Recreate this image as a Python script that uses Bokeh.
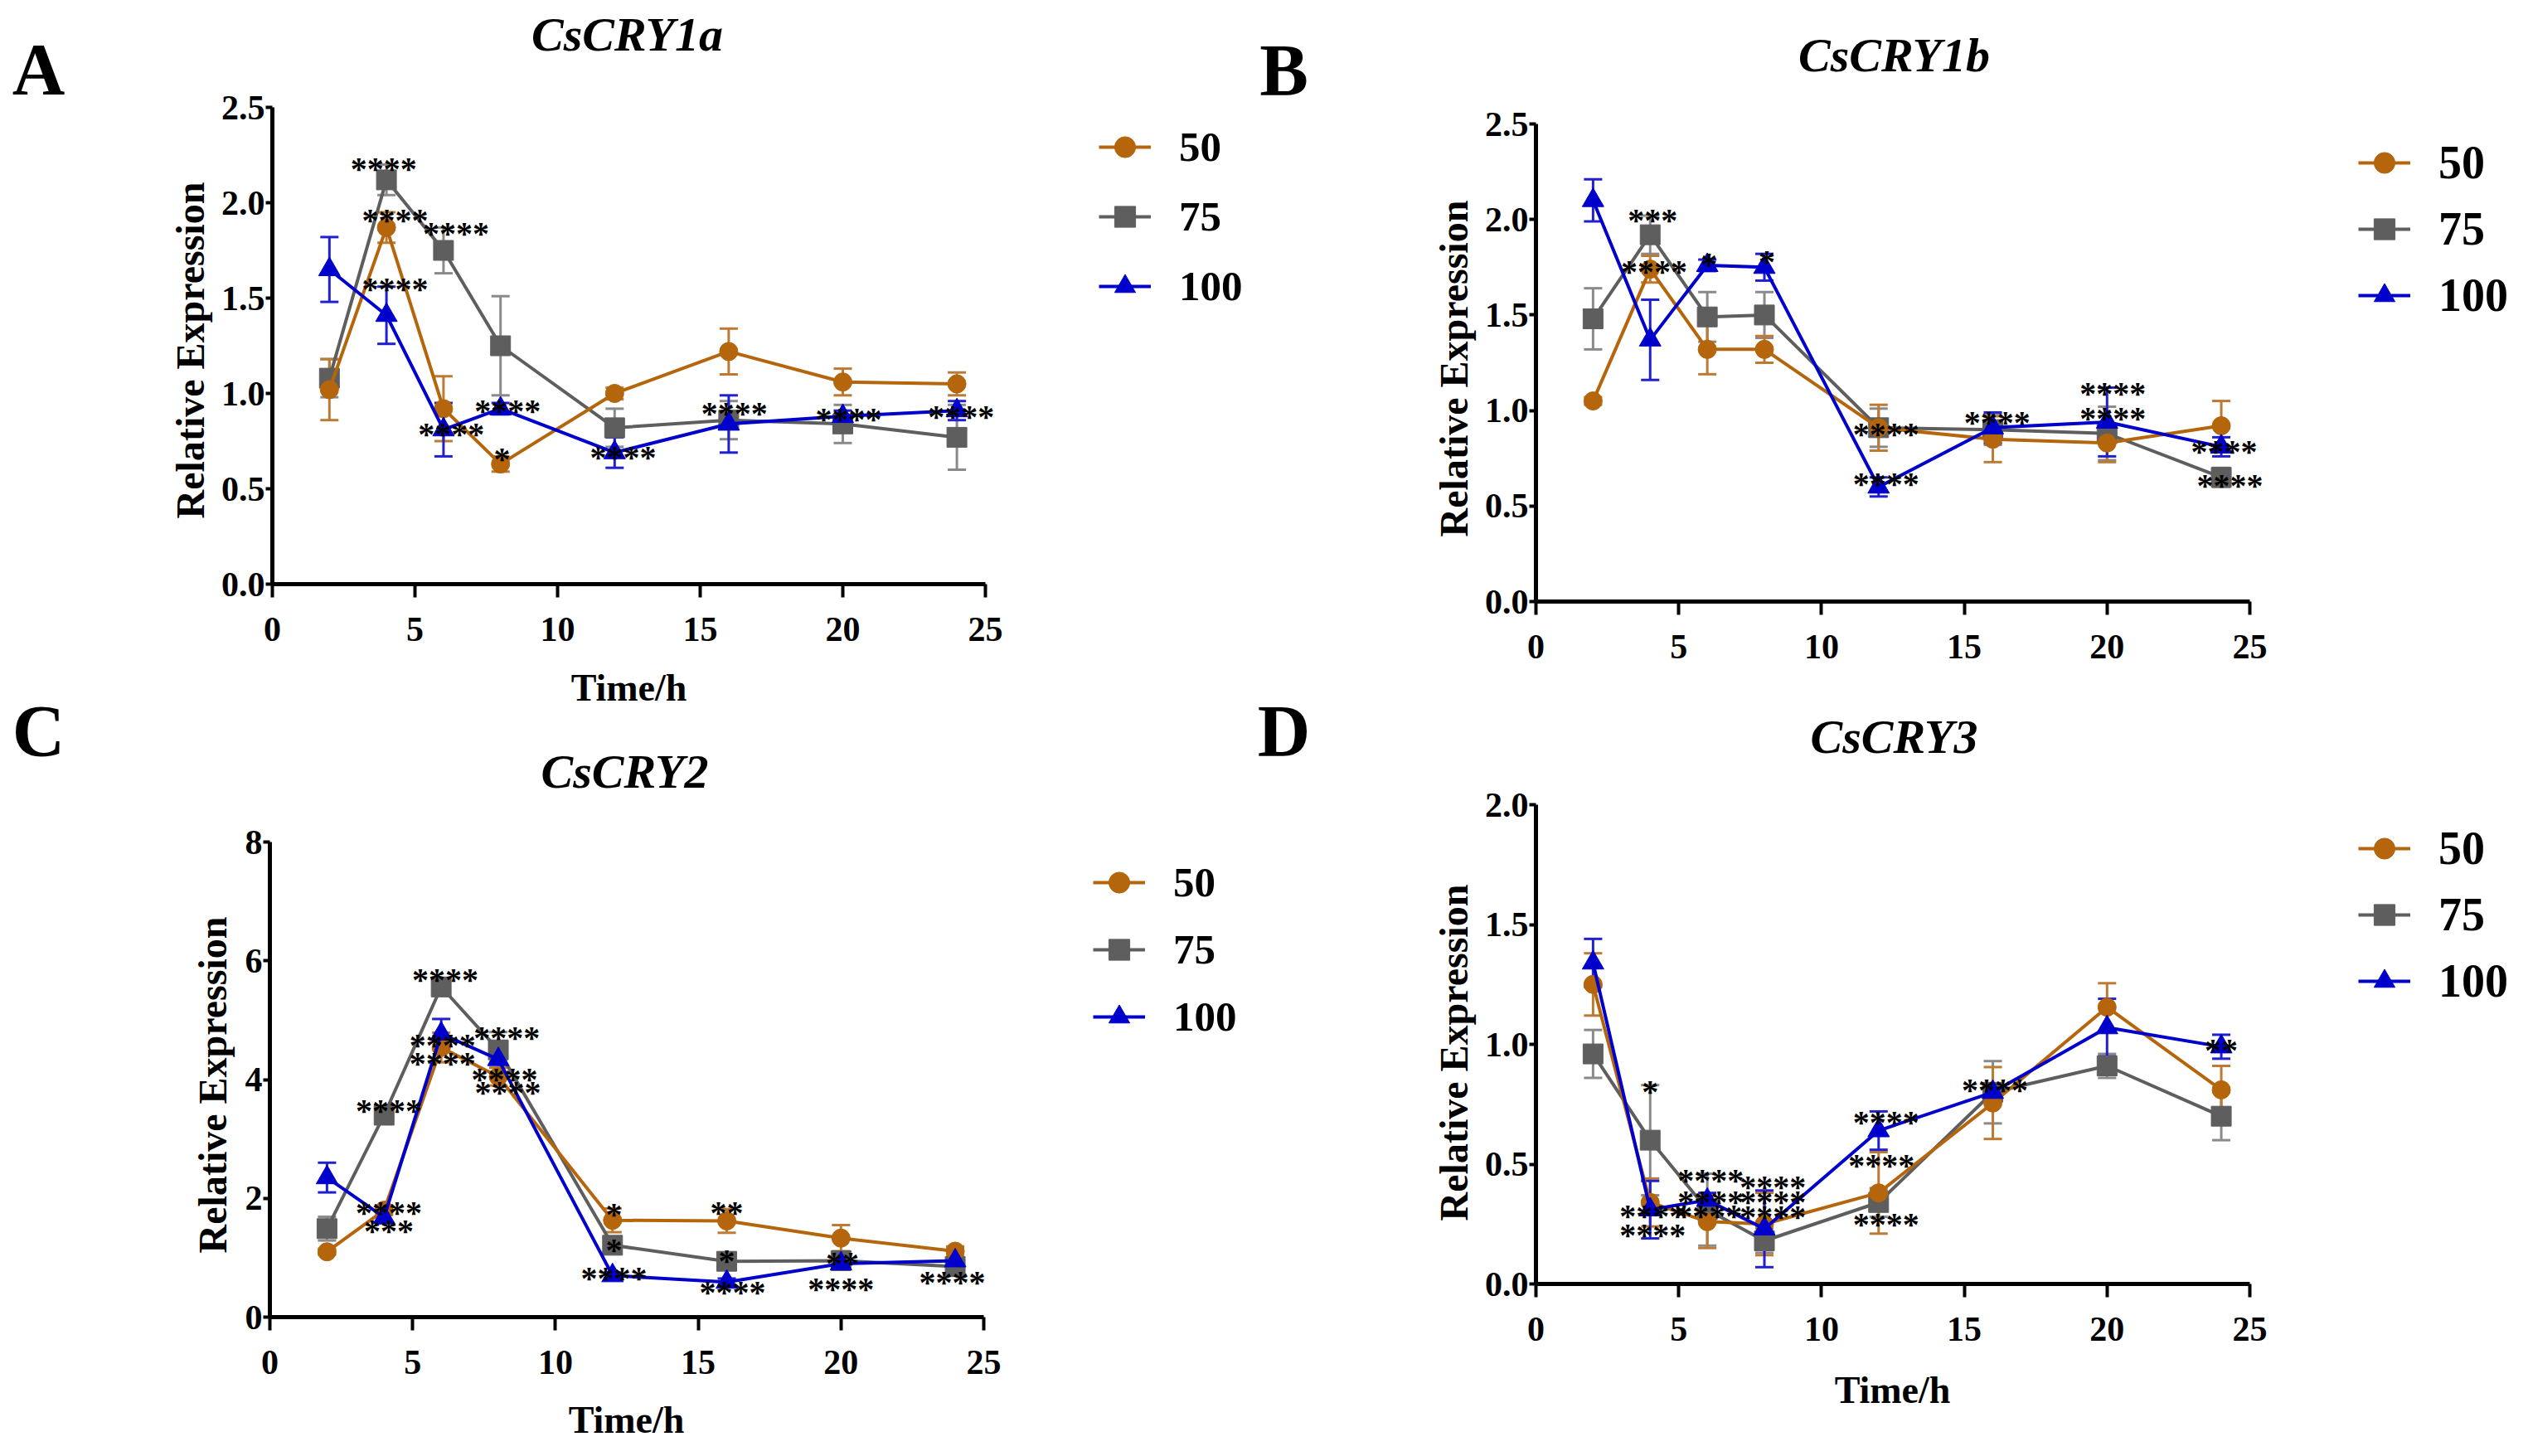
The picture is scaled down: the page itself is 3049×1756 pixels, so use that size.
from bokeh.plotting import figure
from bokeh.layouts import column, row
from bokeh.models import (Range1d, FixedTicker, Label, Legend, LegendItem,
                          PrintfTickFormatter, ColumnDataSource)
from bokeh.core.properties import value
from bokeh.embed import file_html
from bokeh.resources import INLINE

# ---------------- data ----------------
time_h = [2, 4, 6, 8, 12, 16, 20, 24]
series_names = ["50", "75", "100"]

# CsCRY1a
a50 = [1.02, 1.87, 0.92, 0.63, 1.00, 1.22, 1.06, 1.05]
a50_err = [0.16, 0.08, 0.17, 0.04, 0.03, 0.12, 0.07, 0.06]
a75 = [1.08, 2.12, 1.75, 1.25, 0.82, 0.86, 0.84, 0.77]
a75_err = [0.10, 0.08, 0.12, 0.26, 0.10, 0.10, 0.10, 0.17]
a100 = [1.65, 1.41, 0.81, 0.92, 0.69, 0.84, 0.88, 0.91]
a100_err = [0.17, 0.15, 0.14, 0.03, 0.08, 0.15, 0.03, 0.05]
a_sig_text = ["****", "****", "****", "****", "****", "****", "*", "****", "****", "****", "****"]
a_sig_x = [3.9, 4.3, 6.44, 4.3, 6.27, 8.25, 8.05, 12.3, 16.2, 20.2, 24.15]
a_sig_y = [2.26, 1.99, 1.92, 1.63, 0.87, 0.99, 0.74, 0.75, 0.98, 0.95, 0.96]

# CsCRY1b
b50 = [1.05, 1.74, 1.32, 1.32, 0.91, 0.85, 0.83, 0.92]
b50_err = [0.02, 0.07, 0.13, 0.07, 0.12, 0.12, 0.10, 0.13]
b75 = [1.48, 1.92, 1.49, 1.50, 0.91, 0.90, 0.88, 0.65]
b75_err = [0.16, 0.10, 0.13, 0.12, 0.10, 0.08, 0.14, 0.05]
b100 = [2.10, 1.37, 1.76, 1.75, 0.60, 0.91, 0.94, 0.81]
b100_err = [0.11, 0.21, 0.03, 0.07, 0.05, 0.08, 0.18, 0.05]
b_sig_text = ["***", "****", "*", "*", "****", "****", "****", "****", "****", "****", "****"]
b_sig_x = [4.09, 4.14, 6.06, 8.09, 12.26, 12.26, 16.15, 20.2, 20.2, 24.1, 24.3]
b_sig_y = [2.08, 1.81, 1.85, 1.86, 0.96, 0.70, 1.02, 1.17, 1.04, 0.87, 0.69]

# CsCRY2
c50 = [1.10, 1.80, 4.54, 4.05, 1.63, 1.62, 1.33, 1.11]
c50_err = [0.05, 0.08, 0.25, 0.15, 0.20, 0.20, 0.22, 0.08]
c75 = [1.49, 3.40, 5.56, 4.50, 1.21, 0.94, 0.95, 0.85]
c75_err = [0.20, 0.12, 0.15, 0.30, 0.10, 0.10, 0.12, 0.06]
c100 = [2.35, 1.68, 4.77, 4.34, 0.70, 0.59, 0.90, 0.95]
c100_err = [0.25, 0.10, 0.25, 0.05, 0.05, 0.06, 0.05, 0.05]
c_sig_text = ["****", "****", "****", "****", "****", "****", "****", "****", "***",
              "*", "*", "****", "**", "*", "****", "**", "****", "****"]
c_sig_x = [6.14, 8.3, 6.05, 6.05, 8.22, 8.33, 4.17, 4.17, 4.17,
           12.05, 12.05, 12.05, 16.0, 16.0, 16.2, 20.05, 20.0, 23.9]
c_sig_y = [5.95, 4.97, 4.85, 4.54, 4.27, 4.05, 3.74, 2.02, 1.72,
           2.0, 1.39, 0.92, 2.02, 1.21, 0.69, 1.17, 0.74, 0.85]

# CsCRY3
d50 = [1.25, 0.34, 0.26, 0.25, 0.38, 0.755, 1.155, 0.81]
d50_err = [0.13, 0.10, 0.11, 0.13, 0.17, 0.15, 0.10, 0.10]
d75 = [0.96, 0.60, 0.31, 0.18, 0.34, 0.80, 0.91, 0.70]
d75_err = [0.10, 0.23, 0.15, 0.05, 0.06, 0.13, 0.05, 0.10]
d100 = [1.34, 0.31, 0.35, 0.23, 0.64, 0.80, 1.07, 0.99]
d100_err = [0.10, 0.12, 0.03, 0.16, 0.08, 0.03, 0.12, 0.05]
d_sig_text = ["*", "****", "****", "****", "****", "****", "****", "****", "****",
              "****", "****", "****", "****", "**"]
d_sig_x = [4.0, 4.09, 4.09, 6.12, 6.12, 6.06, 8.3, 8.3, 8.3, 12.26, 12.1, 12.26, 16.07, 24.0]
d_sig_y = [0.87, 0.35, 0.27, 0.50, 0.41, 0.35, 0.47, 0.41, 0.345, 0.74, 0.56, 0.315, 0.876, 1.04]

x_ticks = [0, 5, 10, 15, 20, 25]
x_max = 25
panel_letters = ["A", "B", "C", "D"]

# ---------------- style ----------------
SERIF = "Liberation Serif"
line_colors = {"50": "#B5660C", "75": "#5E5E5E", "100": "#0000CC"}
err_colors = {"50": "#BC7A35", "75": "#8A8A8A", "100": "#2020D0"}
markers = {"50": "circle", "75": "square", "100": "triangle"}
marker_sizes = {"50": 22, "75": 24, "100": 26}
M = 8
PAGE_BOTTOM = 1748
LF1_X, LEFT_X, LF2_X, RIGHT_X, PAGE_RIGHT = M, 130, 1514, 1640, 3040
LEFT_SPLIT, RIGHT_SPLIT = 864, 850
ROW_H = 68
LEGEND_DY = 6


def make_panel(title, values, errs, sig, y_max, y_ticks, y_fmt,
               fig_box, axis_px, legend_cfg, texts):
    fx, fy, fw, fh = fig_box
    al, ar, ab, at = axis_px          # page pixels of x=0, x=25, y=0, y=y_max
    kx = (ar - al) / x_max
    ky = (ab - at) / y_max
    x0 = -(al - fx) / kx
    x1 = x_max + (fx + fw - ar) / kx
    y0 = -(fy + fh - ab) / ky
    y1 = y_max + (at - fy) / ky

    def dx(px):
        return (px - al) / kx

    def dy(py):
        return (ab - py) / ky

    p = figure(width=fw, height=fh, x_range=Range1d(x0, x1), y_range=Range1d(y0, y1),
               output_backend="svg", toolbar_location=None, title=None,
               min_border=0, min_border_left=0, min_border_right=0,
               min_border_top=0, min_border_bottom=0)
    p.outline_line_color = None
    p.xgrid.visible = False
    p.ygrid.visible = False
    p.background_fill_color = "white"
    p.border_fill_color = "white"

    for ax in (p.xaxis[0], p.yaxis[0]):
        ax.fixed_location = 0
        ax.axis_line_width = 5
        ax.axis_line_color = "black"
        ax.major_tick_line_width = 4
        ax.major_tick_line_color = "black"
        ax.major_tick_in = 0
        ax.minor_tick_line_color = None
        ax.major_label_text_font = SERIF
        ax.major_label_text_font_style = "bold"
        ax.major_label_text_font_size = "42px"
        ax.major_label_text_color = "black"
    p.xaxis[0].bounds = (0, x_max)
    p.xaxis[0].ticker = FixedTicker(ticks=x_ticks)
    p.xaxis[0].major_tick_out = 16
    p.xaxis[0].major_label_standoff = 24
    p.yaxis[0].bounds = (0, y_max)
    p.yaxis[0].ticker = FixedTicker(ticks=y_ticks)
    p.yaxis[0].formatter = PrintfTickFormatter(format=y_fmt)
    p.yaxis[0].major_tick_out = 8
    p.yaxis[0].major_label_standoff = 1

    cap = 0.32
    renderers = {}
    order = ["75", "50", "100"]
    for name in order:
        ys = values[name]
        es = errs[name]
        src = ColumnDataSource(dict(
            x=time_h, y=ys,
            lo=[y - e for y, e in zip(ys, es)],
            hi=[y + e for y, e in zip(ys, es)],
            xl=[x - cap for x in time_h],
            xr=[x + cap for x in time_h],
        ))
        ec = err_colors[name]
        p.segment(x0="x", y0="lo", x1="x", y1="hi", source=src, line_color=ec, line_width=3)
        p.segment(x0="xl", y0="hi", x1="xr", y1="hi", source=src, line_color=ec, line_width=3)
        p.segment(x0="xl", y0="lo", x1="xr", y1="lo", source=src, line_color=ec, line_width=3)
    for name in order:
        src = ColumnDataSource(dict(x=time_h, y=values[name]))
        lr = p.line("x", "y", source=src, line_color=line_colors[name], line_width=4)
        sr = p.scatter("x", "y", source=src, marker=markers[name], size=marker_sizes[name],
                       fill_color=line_colors[name], line_color=line_colors[name])
        renderers[name] = [lr, sr]

    st, sx, sy = sig
    ssrc = ColumnDataSource(dict(x=sx, y=sy, t=st))
    p.text(x="x", y="y", text="t", source=ssrc, text_font=value(SERIF),
           text_font_style="bold", text_font_size="40px", text_color="black",
           text_align="center", text_baseline="alphabetic", y_offset=19)

    glyph_left, first_center, step, lfont = legend_cfg
    sp = int(round(step - ROW_H))
    lbottom = first_center - ROW_H / 2 + 3 * ROW_H + 2 * sp + LEGEND_DY
    legend = Legend(items=[LegendItem(label=n, renderers=renderers[n]) for n in series_names],
                    location=(glyph_left - fx, fy + fh - lbottom), orientation="vertical",
                    border_line_color=None, background_fill_alpha=0,
                    label_text_font=SERIF, label_text_font_style="bold",
                    label_text_font_size=lfont, label_text_color="black",
                    glyph_width=63, glyph_height=ROW_H, label_height=ROW_H,
                    label_standoff=34, spacing=sp, padding=0, margin=0)
    p.add_layout(legend, "center")

    def add_text(txt, pos, size, style="bold", angle=0.0):
        p.add_layout(Label(x=dx(pos[0]), y=dy(pos[1]), text=txt, angle=angle,
                           text_font=SERIF, text_font_style=style, text_font_size=size,
                           text_align="center", text_baseline="middle", text_color="black"))

    add_text(title, texts["title"], "58px", "bold italic")
    if "xlabel" in texts:
        add_text("Time/h", texts["xlabel"], "46px")
    add_text("Relative Expression", texts["ylabel"], "48px", angle=1.5707963)
    return p


def make_letter_strip(fx, fw, letters, centers):
    fy, fh = M, PAGE_BOTTOM - M
    p = figure(width=fw, height=fh, x_range=Range1d(0, fw), y_range=Range1d(0, fh),
               output_backend="svg", toolbar_location=None, title=None,
               x_axis_location=None, y_axis_location=None,
               min_border=0, min_border_left=0, min_border_right=0,
               min_border_top=0, min_border_bottom=0)
    p.outline_line_color = None
    p.xgrid.visible = False
    p.ygrid.visible = False
    for letter, (px, py) in zip(letters, centers):
        p.add_layout(Label(x=px - fx, y=fy + fh - py, text=letter,
                           text_font=SERIF, text_font_style="bold", text_font_size="88px",
                           text_align="center", text_baseline="middle", text_color="black"))
    return p


pA = make_panel("CsCRY1a",
                {"50": a50, "75": a75, "100": a100},
                {"50": a50_err, "75": a75_err, "100": a100_err},
                (a_sig_text, a_sig_x, a_sig_y), 2.5, [0, 0.5, 1.0, 1.5, 2.0, 2.5], "%.1f",
                (LEFT_X, M, LF2_X - LEFT_X, LEFT_SPLIT - M), (336, 1196, 712, 137),
                (1333, 179, 84.5, "51px"),
                {"title": (764, 49), "xlabel": (766, 837), "ylabel": (237, 430)})
pB = make_panel("CsCRY1b",
                {"50": b50, "75": b75, "100": b100},
                {"50": b50_err, "75": b75_err, "100": b100_err},
                (b_sig_text, b_sig_x, b_sig_y), 2.5, [0, 0.5, 1.0, 1.5, 2.0, 2.5], "%.1f",
                (RIGHT_X, M, PAGE_RIGHT - RIGHT_X, RIGHT_SPLIT - M), (1860, 2721, 733, 157),
                (2852, 198, 80, "56px"),
                {"title": (2292, 74), "ylabel": (1761, 452)})
pC = make_panel("CsCRY2",
                {"50": c50, "75": c75, "100": c100},
                {"50": c50_err, "75": c75_err, "100": c100_err},
                (c_sig_text, c_sig_x, c_sig_y), 8, [0, 2, 4, 6, 8], "%d",
                (LEFT_X, LEFT_SPLIT, LF2_X - LEFT_X, PAGE_BOTTOM - LEFT_SPLIT), (333, 1194, 1596, 1023),
                (1326, 1066, 81, "51px"),
                {"title": (761, 938), "xlabel": (763, 1720), "ylabel": (264, 1316)})
pD = make_panel("CsCRY3",
                {"50": d50, "75": d75, "100": d100},
                {"50": d50_err, "75": d75_err, "100": d100_err},
                (d_sig_text, d_sig_x, d_sig_y), 2.0, [0, 0.5, 1.0, 1.5, 2.0], "%.1f",
                (RIGHT_X, RIGHT_SPLIT, PAGE_RIGHT - RIGHT_X, PAGE_BOTTOM - RIGHT_SPLIT), (1860, 2721, 1556, 978),
                (2852, 1025, 79.5, "56px"),
                {"title": (2292, 896), "xlabel": (2290, 1684), "ylabel": (1761, 1277)})

strip1 = make_letter_strip(LF1_X, LEFT_X - LF1_X, [panel_letters[0], panel_letters[2]],
                           [(54, 91), (54, 889)])
strip2 = make_letter_strip(LF2_X, RIGHT_X - LF2_X, [panel_letters[1], panel_letters[3]],
                           [(1556, 92), (1556, 889)])

layout = row(strip1, column(pA, pC), strip2, column(pB, pD))
open("out.html", "w").write(file_html(layout, INLINE))
